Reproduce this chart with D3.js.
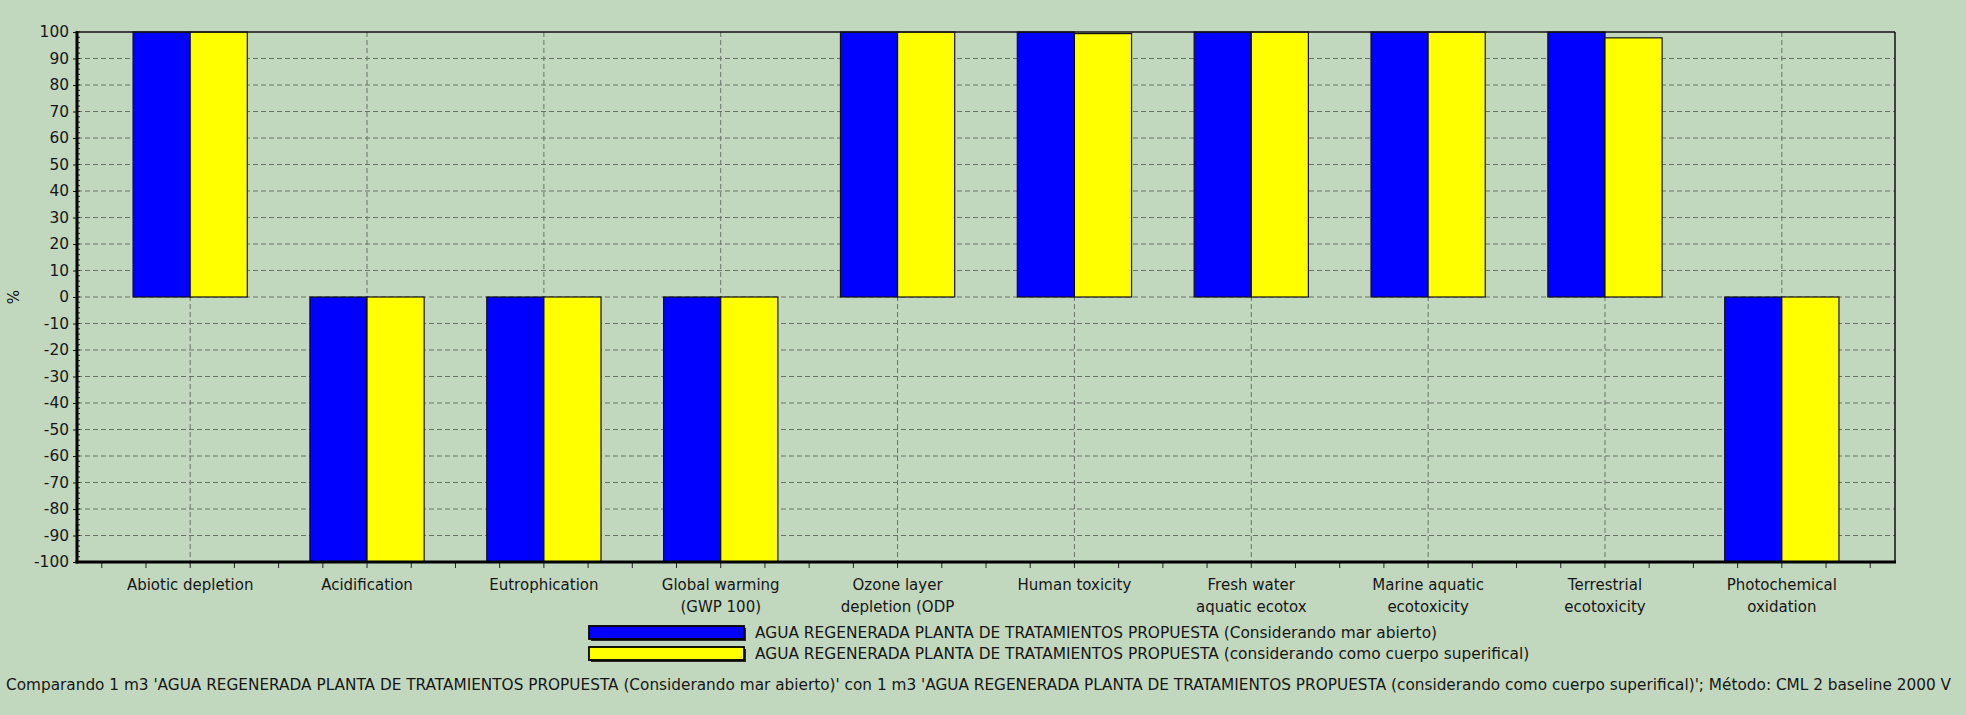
<!DOCTYPE html>
<html>
<head>
<meta charset="utf-8">
<script src="https://cdn.jsdelivr.net/npm/d3@7"></script>
<style>
  html, body { margin: 0; padding: 0; background: #c1d8bf; overflow: hidden; }
  svg { display: block; }
  text { font-family: "DejaVu Sans", sans-serif; fill: #161616; }
</style>
</head>
<body>
<svg id="chart" width="1966" height="715"></svg>
<script>
// ---- Data ----
const categories = [
  "Abiotic depletion", "Acidification", "Eutrophication", "Global warming (GWP 100)",
  "Ozone layer depletion (ODP", "Human toxicity", "Fresh water aquatic ecotox",
  "Marine aquatic ecotoxicity", "Terrestrial ecotoxicity", "Photochemical oxidation"
];
const categoryLines = [
  ["Abiotic depletion"], ["Acidification"], ["Eutrophication"], ["Global warming", "(GWP 100)"],
  ["Ozone layer", "depletion (ODP"], ["Human toxicity"], ["Fresh water", "aquatic ecotox"],
  ["Marine aquatic", "ecotoxicity"], ["Terrestrial", "ecotoxicity"], ["Photochemical", "oxidation"]
];
const seriesNames = [
  "AGUA REGENERADA PLANTA DE TRATAMIENTOS PROPUESTA (Considerando mar abierto)",
  "AGUA REGENERADA PLANTA DE TRATAMIENTOS PROPUESTA (considerando como cuerpo superifical)"
];
const seriesMarAbierto = [100, -100, -100, -100, 100, 100, 100, 100, 100, -100];
const seriesCuerpoSuperficial = [100, -100, -100, -100, 100, 99.4, 100, 100, 97.8, -100];
const seriesColors = ["#0000ff", "#ffff00"];
const yTicks = d3.range(-100, 101, 10);
const yAxisLabel = "%";
const caption = "Comparando 1 m3 'AGUA REGENERADA PLANTA DE TRATAMIENTOS PROPUESTA (Considerando mar abierto)' con 1 m3 'AGUA REGENERADA PLANTA DE TRATAMIENTOS PROPUESTA (considerando como cuerpo superifical)';  Método: CML 2 baseline 2000 V";

// ---- Layout ----
const svg = d3.select("#chart");
const L = 77, R = 1895, T = 32, B = 562;
const bg = "#c1d8bf";
svg.append("rect").attr("width", 1966).attr("height", 715).attr("fill", bg);

const x = d3.scalePoint().domain(categories).range([L, R]).padding(0.64);
const y = d3.scaleLinear().domain([-100, 100]).range([B, T]);
const step = x.step();
const barW = step * 0.323;
const gridColor = "#6a7168";

// Gridlines
const g = svg.append("g");
g.selectAll("line.h").data(yTicks.filter(v => v > -100 && v < 100)).join("line")
  .attr("x1", L).attr("x2", R).attr("y1", d => y(d)).attr("y2", d => y(d))
  .attr("stroke", gridColor).attr("stroke-width", 1).attr("stroke-dasharray", "5,3");
g.selectAll("line.v").data(categories).join("line")
  .attr("x1", d => x(d)).attr("x2", d => x(d)).attr("y1", T).attr("y2", B)
  .attr("stroke", gridColor).attr("stroke-width", 1).attr("stroke-dasharray", "5,3");

// Bars
const series = [seriesMarAbierto, seriesCuerpoSuperficial];
series.forEach((vals, si) => {
  svg.append("g").selectAll("rect").data(vals).join("rect")
    .attr("x", (d, i) => x(categories[i]) - barW + si * barW)
    .attr("y", d => y(Math.max(0, d)))
    .attr("width", barW)
    .attr("height", d => Math.abs(y(d) - y(0)))
    .attr("fill", seriesColors[si])
    .attr("stroke", "#111").attr("stroke-width", 1.2);
});

// Frame
svg.append("line").attr("x1", L).attr("x2", R).attr("y1", T).attr("y2", T).attr("stroke", "#111").attr("stroke-width", 1.5);
svg.append("line").attr("x1", R).attr("x2", R).attr("y1", T).attr("y2", B).attr("stroke", "#111").attr("stroke-width", 1.5);

// Y axis
const yAxis = d3.axisLeft(y).tickValues(yTicks).tickSize(4).tickPadding(4).tickFormat(d => String(d));
const ya = svg.append("g").attr("transform", `translate(${L},0)`).call(yAxis);
ya.select(".domain").remove();
ya.selectAll(".tick line").attr("stroke", "#111");
ya.selectAll(".tick text").style("font-size", "15.4px").style("font-family", "DejaVu Sans").attr("fill", "#161616");
// minor y ticks
svg.append("g").selectAll("line").data(d3.range(-100, 101, 2)).join("line")
  .attr("x1", L).attr("x2", L + 3).attr("y1", d => y(d)).attr("y2", d => y(d))
  .attr("stroke", "#222").attr("stroke-width", 1);
svg.append("line").attr("x1", L).attr("x2", L).attr("y1", T - 1).attr("y2", B + 1.5).attr("stroke", "#000").attr("stroke-width", 3);

// X axis: minor ticks every quarter step
const xTickPos = [];
categories.forEach(c => { for (let k = -2; k < 2; k++) xTickPos.push(x(c) + k * step / 4); });
xTickPos.push(x(categories[categories.length - 1]) + 2 * step / 4);
svg.append("g").selectAll("line").data(xTickPos.filter(p => p > L + 2 && p < R - 2)).join("line")
  .attr("x1", d => d).attr("x2", d => d).attr("y1", B).attr("y2", B + 6)
  .attr("stroke", "#222").attr("stroke-width", 1);
svg.append("line").attr("x1", L - 1.5).attr("x2", R + 1).attr("y1", B).attr("y2", B).attr("stroke", "#000").attr("stroke-width", 3);

// X labels
const xl = svg.append("g");
categories.forEach((c, i) => {
  const t = xl.append("text").attr("text-anchor", "middle").style("font-size", "15px");
  categoryLines[i].forEach((ln, j) => {
    t.append("tspan").attr("x", x(c)).attr("y", 590 + j * 22).text(ln);
  });
});

// Y axis label
svg.append("text").attr("transform", "translate(19,297) rotate(-90)")
  .attr("text-anchor", "middle").style("font-size", "15px").text(yAxisLabel);

// Legend
const lg = svg.append("g");
seriesNames.forEach((name, i) => {
  const yy = 626 + i * 21;
  lg.append("rect").attr("x", 591).attr("y", yy + 2).attr("width", 155).attr("height", 13).attr("fill", "#2a2a2a");
  lg.append("rect").attr("x", 589).attr("y", yy).attr("width", 155).attr("height", 13)
    .attr("fill", seriesColors[i]).attr("stroke", "#000").attr("stroke-width", 1.8);
  lg.append("text").attr("x", 755).attr("y", yy + 12).style("font-size", "15.4px").text(name);
});

// Caption
svg.append("text").attr("x", 6).attr("y", 690).style("font-size", "15.3px").text(caption);
</script>
</body>
</html>
